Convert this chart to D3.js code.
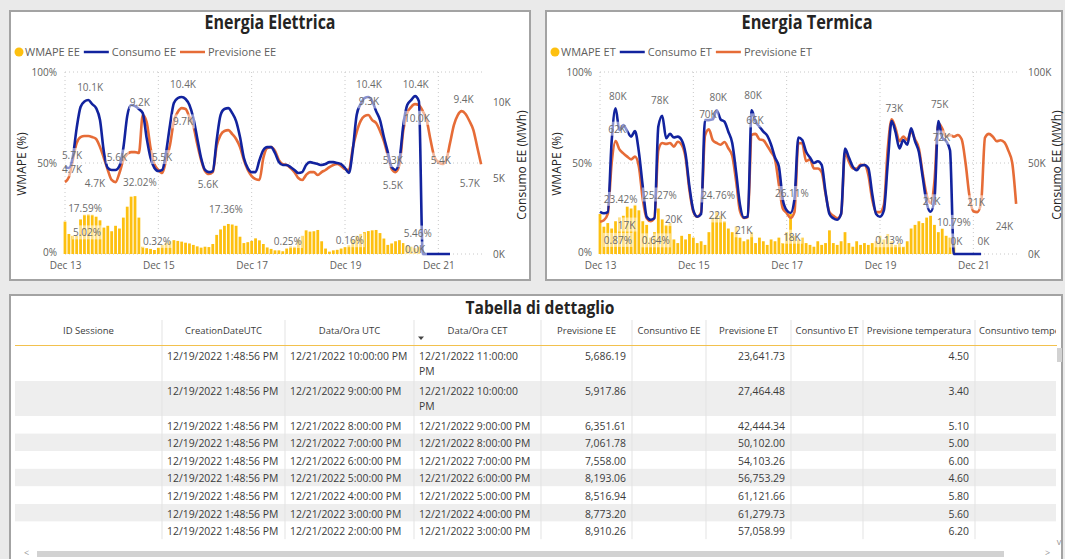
<!DOCTYPE html>
<html>
<head>
<meta charset="utf-8">
<script src="https://cdn.jsdelivr.net/npm/d3@7"></script>
<style>
body { margin: 0; background: #eaeaea; overflow: hidden; }
svg { display: block; font-family: "Open Sans", sans-serif; }
</style>
</head>
<body>
<svg id="dash" width="1065" height="559"></svg>
<script>
// time grid: one value every 2 hours from Dec 13 00:00
var startDate = new Date(2022, 11, 13, 0, 0);
var stepHours = 2;

// Energia Elettrica (MWh, thousands)
var eeConsumo = [5.73,5.67,6.39,8.30,9.69,10.05,10.15,9.88,9.62,8.83,
  6.72,5.67,5.54,5.54,5.80,6.99,9.09,9.82,9.75,9.56,
  9.29,7.64,6.33,5.67,5.47,5.54,6.72,8.50,9.95,10.28,
  10.35,10.22,9.82,8.96,7.64,6.33,5.54,5.40,5.47,7.51,
  9.16,9.56,9.62,9.29,8.76,7.71,6.33,5.67,5.40,5.40,
  6.19,6.85,7.05,7.05,6.66,6.06,5.87,5.87,5.73,5.54,
  5.34,5.40,5.87,6.06,6.00,5.93,5.87,5.93,6.06,6.06,
  6.00,5.93,5.67,5.34,6.85,9.16,9.88,10.28,10.35,10.08,
  9.42,8.83,7.71,6.72,5.73,5.54,6.19,8.50,9.82,10.15,
  10.41,10.08,0,0,0,0,0,0,0,0,
  null,null,null,null,null,null,null,null];
var eePrevisione = [4.74,5.07,6.19,7.31,7.71,7.78,7.78,7.71,7.58,7.05,
  6.33,5.54,4.88,4.74,5.34,6.19,6.59,6.72,6.72,6.66,
  9.16,8.70,6.99,5.93,5.54,5.34,6.19,7.18,8.76,9.36,
  9.62,9.56,9.03,8.44,7.25,6.19,5.47,5.27,5.40,7.12,
  7.84,8.11,8.17,7.91,7.58,7.05,6.19,5.54,5.14,4.94,
  4.88,6.33,6.99,7.05,6.79,6.19,5.93,5.87,5.67,5.40,
  5.01,4.88,5.21,5.40,5.40,5.21,5.40,5.54,5.73,5.87,
  5.93,5.80,5.60,5.54,6.99,8.04,8.76,9.09,9.16,8.83,
  8.63,8.11,7.45,6.52,5.60,5.40,5.87,8.17,9.29,9.69,
  9.88,9.82,9.42,8.83,7.51,6.39,6.06,5.93,6.19,7.31,
  8.50,9.16,9.42,9.23,8.77,8.19,7.06,5.92];
var eeWmape = [17.8,11,10,10,19,21.6,21.8,21.6,20.5,18.5,
  14.5,15.5,12.5,15.5,14,20,26,31.5,31.8,20,
  4,3.2,2.8,2.2,3.5,5,6.2,7,7.6,7.2,
  6.8,6.2,5.8,5,4.2,3.5,4,3.8,5.5,10.5,
  13.5,15.5,16.5,16.2,15.5,9.5,6,6.5,7.2,8.6,
  7.5,5.5,3.6,2.8,2,2,1.5,3,4.2,4,
  8,10,13,12.3,12.5,13.2,7,3,1.3,2,
  2.3,3,3.8,4.8,8,10,11,12,12.6,13,
  13.2,11.5,8.5,5,5.8,7,7.6,6,4.5,4,
  3.2,4,null,null,null,null,null,null,null,null,
  null,null,null,null,null,null,null,null];

// Energia Termica (MWh, thousands)
var etConsumo = [23.2,22.4,23,62,80,68,70.9,67.5,64.5,67.5,
  56,37,20.5,18.8,19.6,70,76,63.6,66,64,
  64.5,62.6,55,37,24,20.5,22,73.6,73.6,74,
  79,74,72.7,67.2,61,45,27,20,20.5,79,
  72.7,70,67.2,65,60,53,48,30,24,22.5,
  30,64,62.6,56.2,53,50,51,49,34,22,
  19.6,18.8,22,58,53,48,46,48.5,48.9,47.1,
  33,22,20.5,24,50,73,67,58,62.6,60,
  69,62,56,42,28,23.2,30,73,64,62,
  57,0,0,0,0,0,0,0,0,null,
  null,null,null,null,null,null,null,null];
var etPrevisione = [17.7,18.5,22,50,62,57.5,55.3,53.5,52,53.5,
  48,30,19.6,18,20,57,61,60.5,61,59,
  61.7,60,53,35,23.2,20.5,23,65,68.5,62.5,
  61,60,61.5,58.1,54,40,23.5,19.8,20.3,65.4,
  66,63,62.5,59.5,56,52,38,25,22.5,19.8,
  23,61,60.8,51,52,47,47,45,33,23,
  21,19.6,22,56,50.7,47,47,49,48.9,43.4,
  30,23,23,27,58,74,69,62,64.5,62.6,
  67.2,63,58,44,32.4,28,40,72,69,64.5,
  65.4,64.5,65.4,63,50,32,23.5,23,28,64,
  66,64.5,62,62.5,61.3,56.8,50.1,27.5];
var etWmape = [22,15,17,14,18,20,21,26,25,27,
  24,18,16,9,12,25,19,16,17,8,
  6,10,8,11,9,6,7,5,12,20,
  23,21,18,14,12,15,9,7,8,12,
  6,9,7,5,8,7,9,6,12,22,
  10,8,9,6,5,4,7,5,6,13,
  6,5,7,12,6,4,7,5,6,5,
  6,7,10,8,11,7,5,6,4,7,
  14,16,18,17,20,21,16,12,14,10,
  9,8,null,null,null,null,null,null,null,null,
  null,null,null,null,null,null,null,null];

// data labels: text, hour from Dec 13 00:00, offset
var eeLabels = [["10.1K",12.9,-13],["9.2K",38.5,-12],["10.4K",60.7,-12],["9.7K",60.7,15],
  ["5.7K",3.6,-12],["4.7K",3.6,-13],["5.6K",26.7,-12],["4.7K",15.4,1],
  ["5.5K",49.9,-13],["5.6K",73.5,15],["10.4K",156.3,-12],["9.3K",156.3,-11],
  ["10.4K",180.4,-12],["10.0K",181,16],["9.4K",205,-12],["5.3K",168.6,-13],
  ["5.5K",168.6,15],["5.4K",193.3,-12],["5.7K",208.2,16],["0.0K",180,-5],
  ["17.59%",10.3,-13],["5.02%",11.3,-12],["32.02%",38.5,-13],["0.32%",47.3,-12],
  ["17.36%",82.8,-13],["0.25%",114.6,-12],["0.16%",146.5,-13],["5.46%",181.4,-11]];
var etLabels = [["80K",9.2,-12],["62K",8.8,-12],["78K",30.8,-12],["80K",60.8,-11],["70K",55.5,-12],
  ["80K",78.7,-13],["66K",79.7,-13],["73K",151.4,-13],["75K",174.7,-13],["72K",175.6,15],
  ["23.42%",10.6,-12],["25.27%",30.8,-13],["24.76%",60.7,-13],["26.11%",98.7,-13],
  ["17K",13.7,2],["20K",37.9,2],["22K",60.4,2],["21K",73.9,15],["18K",98.7,16],
  ["0.87%",9.2,-12],["0.64%",28.7,-12],["0.13%",148.8,-13],["21K",170.5,-14],
  ["21K",193.4,-13],["10.79%",182,-12],["24K",208,16],["0K",183.3,-13],["0K",197.2,-13]];

// table
var tableCols = ["ID Sessione","CreationDateUTC","Data/Ora UTC","Data/Ora CET","Previsione EE",
  "Consuntivo EE","Previsione ET","Consuntivo ET","Previsione temperatura","Consuntivo temperatura"];
var creationDateUTC = "12/19/2022 1:48:56 PM";
var dataOraUTC = ["12/21/2022 10:00:00 PM","12/21/2022 9:00:00 PM","12/21/2022 8:00:00 PM",
  "12/21/2022 7:00:00 PM","12/21/2022 6:00:00 PM","12/21/2022 5:00:00 PM",
  "12/21/2022 4:00:00 PM","12/21/2022 3:00:00 PM","12/21/2022 2:00:00 PM"];
var dataOraCET = ["12/21/2022 11:00:00 PM","12/21/2022 10:00:00 PM","12/21/2022 9:00:00 PM",
  "12/21/2022 8:00:00 PM","12/21/2022 7:00:00 PM","12/21/2022 6:00:00 PM",
  "12/21/2022 5:00:00 PM","12/21/2022 4:00:00 PM","12/21/2022 3:00:00 PM"];
var previsioneEE = [5686.19,5917.86,6351.61,7061.78,7558.00,8193.06,8516.94,8773.20,8910.26];
var previsioneET = [23641.73,27464.48,42444.34,50102.00,54103.26,56753.29,61121.66,61279.73,57058.99];
var previsioneTemp = [4.50,3.40,5.10,5.00,6.00,4.60,5.80,5.60,6.20];

var blue = "#12239E", orange = "#E66C37", yellow = "#FDC010";
var labelColor = "#6b6b6b", darkText = "#252423";

var svg = d3.select("#dash");

function panel(x, y, w, h) {
    svg.append("rect")
        .attr("x", x).attr("y", y)
        .attr("width", w).attr("height", h)
        .attr("fill", "#fff")
        .attr("stroke", "#a3a3a3")
        .attr("stroke-width", 2);
}
panel(10, 11, 520, 269);
panel(546, 11, 516, 269);
panel(10, 295, 1052, 270);

function timeAt(i) { return d3.timeHour.offset(startDate, i * stepHours); }

function drawChart(c) {
    var g = svg.append("g");
    var x = d3.scaleTime()
        .domain([startDate, d3.timeDay.offset(startDate, 9)])
        .range([c.x0, c.x0 + 420]);
    var yL = d3.scaleLinear().domain([0, 100]).range([254, 72]);
    var yR = d3.scaleLinear().domain([0, c.rMax]).range([254, 72]);

    g.append("text")
        .attr("x", c.titleX).attr("y", 29)
        .attr("text-anchor", "middle")
        .attr("font-size", 19).attr("font-weight", "bold")
        .attr("fill", darkText)
        .attr("textLength", 131).attr("lengthAdjust", "spacingAndGlyphs")
        .text(c.title);

    // legend
    var ly = 52, lx = c.px + 9;
    var leg = g.append("g").attr("font-size", 11).attr("fill", "#605E5C");
    leg.append("circle").attr("cx", lx).attr("cy", ly).attr("r", 4.5).attr("fill", yellow);
    var cur = lx + 6;
    c.names.forEach(function(n, k) {
        if (k > 0) {
            leg.append("line")
                .attr("x1", cur).attr("x2", cur + 25)
                .attr("y1", ly).attr("y2", ly)
                .attr("stroke", k == 1 ? blue : orange).attr("stroke-width", 2.5);
            cur += 28;
        }
        var t = leg.append("text").attr("x", cur).attr("y", ly).attr("dy", "0.35em").text(n);
        cur += t.node().getComputedTextLength() + 4;
    });

    // grid
    var xt = x.ticks(d3.timeDay.every(2)).filter(function(d) { return d < x.domain()[1]; });
    g.selectAll(".vg").data(xt).enter().append("line")
        .attr("x1", function(d) { return x(d); }).attr("x2", function(d) { return x(d); })
        .attr("y1", 72).attr("y2", 254)
        .attr("stroke", "#c8c8c8").attr("stroke-dasharray", "1,3");
    g.selectAll(".hg").data([0, 50, 100]).enter().append("line")
        .attr("x1", c.x0).attr("x2", c.x0 + 419)
        .attr("y1", function(d) { return yL(d); }).attr("y2", function(d) { return yL(d); })
        .attr("stroke", "#c8c8c8").attr("stroke-dasharray", "1,3");

    // axes
    var ax = g.append("g").attr("transform", "translate(0,254)")
        .call(d3.axisBottom(x).tickValues(xt).tickFormat(d3.timeFormat("%b %d")).tickSize(0).tickPadding(8));
    var al = g.append("g").attr("transform", "translate(" + c.x0 + ",0)")
        .call(d3.axisLeft(yL).tickValues([0, 50, 100]).tickFormat(function(d) { return d + "%"; }).tickSize(0).tickPadding(8));
    var ar = g.append("g").attr("transform", "translate(" + (c.x0 + 420) + ",0)")
        .call(d3.axisRight(yR).tickValues(c.rTicks).tickFormat(function(d) { return d + "K"; }).tickSize(0).tickPadding(8));
    [ax, al, ar].forEach(function(a) {
        a.select(".domain").remove();
        a.selectAll("text").attr("font-family", "Open Sans").attr("font-size", 10).attr("fill", "#605E5C");
    });
    al.selectAll(".tick text").attr("dy", function(d) { return d == 0 ? "0.1em" : "0.32em"; });

    g.append("text")
        .attr("transform", "translate(" + (c.x0 - 43) + ",164) rotate(-90)")
        .attr("text-anchor", "middle").attr("dy", "0.35em")
        .attr("font-size", 12).attr("fill", darkText)
        .text("WMAPE (%)");
    g.append("text")
        .attr("transform", "translate(" + (c.x0 + 457) + ",165) rotate(-90)")
        .attr("text-anchor", "middle").attr("dy", "0.35em")
        .attr("font-size", 12).attr("fill", darkText)
        .text("Consumo EE (MWh)");

    // WMAPE columns
    var bw = (x(timeAt(1)) - x(timeAt(0))) * 0.72;
    var bars = c.wmape.map(function(v, i) { return {t: timeAt(i), v: v}; })
        .filter(function(d) { return d.v != null; });
    g.selectAll(".bar").data(bars).enter().append("rect")
        .attr("x", function(d) { return x(d.t) - bw / 2; })
        .attr("width", bw)
        .attr("y", function(d) { return yL(d.v); })
        .attr("height", function(d) { return yL(0) - yL(d.v); })
        .attr("fill", yellow);

    // lines
    var line = d3.line()
        .defined(function(d) { return d.v != null; })
        .x(function(d) { return x(d.t); })
        .y(function(d) { return yR(d.v); })
        .curve(d3.curveMonotoneX);
    [[c.prev, orange], [c.cons, blue]].forEach(function(s) {
        g.append("path")
            .datum(s[0].map(function(v, i) { return {t: timeAt(i), v: v}; }))
            .attr("d", line)
            .attr("fill", "none")
            .attr("stroke", s[1])
            .attr("stroke-width", 2.6)
            .attr("stroke-linejoin", "round");
    });

    // data labels
    c.labels.forEach(function(l) {
        var v = parseFloat(l[0]);
        var yy = (l[0].slice(-1) == "%" ? yL(v) : yR(v)) + l[2];
        var xx = x(new Date(+startDate + l[1] * 36e5));
        var lg = g.append("g");
        var t = lg.append("text")
            .attr("x", xx).attr("y", yy).attr("dy", "0.35em")
            .attr("text-anchor", "middle")
            .attr("font-size", 10).attr("fill", labelColor)
            .text(l[0]);
        var bb = t.node().getBBox();
        lg.insert("rect", "text")
            .attr("x", bb.x - 1).attr("y", bb.y)
            .attr("width", bb.width + 2).attr("height", bb.height)
            .attr("fill", "#fff").attr("fill-opacity", 0.5);
    });
}

drawChart({px: 10, x0: 65, titleX: 270, title: "Energia Elettrica",
    names: ["WMAPE EE", "Consumo EE", "Previsione EE"],
    cons: eeConsumo, prev: eePrevisione, wmape: eeWmape,
    rMax: 12, rTicks: [0, 5, 10], labels: eeLabels});
drawChart({px: 546, x0: 600, titleX: 807, title: "Energia Termica",
    names: ["WMAPE ET", "Consumo ET", "Previsione ET"],
    cons: etConsumo, prev: etPrevisione, wmape: etWmape,
    rMax: 100, rTicks: [0, 50, 100], labels: etLabels});

// ---- table ----
var tg = svg.append("g");
tg.append("text")
    .attr("x", 540).attr("y", 314)
    .attr("text-anchor", "middle")
    .attr("font-size", 18).attr("font-weight", "bold")
    .attr("fill", darkText)
    .attr("textLength", 149).attr("lengthAdjust", "spacingAndGlyphs")
    .text("Tabella di dettaglio");

var colEdges = [15, 162, 285, 414, 541, 632, 706, 791, 863, 975, 1057];
var numCol = [false, false, false, false, true, true, true, true, true, true];

svg.append("clipPath").attr("id", "tclip")
    .append("rect").attr("x", 15).attr("y", 315).attr("width", 1041).attr("height", 240);
var tbl = tg.append("g").attr("clip-path", "url(#tclip)");
var bandG = tbl.append("g"), gridG = tbl.append("g"), txtG = tbl.append("g");

tableCols.forEach(function(h, k) {
    var x0 = colEdges[k], x1 = colEdges[k + 1];
    var t = txtG.append("text")
        .attr("x", (x0 + x1) / 2).attr("y", 331).attr("dy", "0.35em")
        .attr("text-anchor", "middle")
        .attr("font-size", 9.5).attr("fill", "#3b3b3b")
        .text(h);
    if (t.node().getComputedTextLength() > x1 - x0 - 6) {
        t.attr("x", x0 + 4).attr("text-anchor", "start");
    }
});
tg.append("path").attr("d", "M418,336.5L424,336.5L421,340Z").attr("fill", "#444");

var fmt2 = d3.format(",.2f"), fmtT = d3.format(".2f");
var rows = dataOraUTC.map(function(d, i) {
    return ["", creationDateUTC, d, dataOraCET[i], fmt2(previsioneEE[i]), "",
        fmt2(previsioneET[i]), "", fmtT(previsioneTemp[i]), ""];
});

var ry = 346;
rows.forEach(function(r, i) {
    var band = bandG.append("rect").attr("x", 15).attr("width", 1042).attr("y", ry)
        .attr("fill", i % 2 ? "#eeeeee" : "#fff");
    var lines = 1;
    r.forEach(function(cell, k) {
        if (cell === "") return;
        var x0 = colEdges[k], x1 = colEdges[k + 1];
        var t = txtG.append("text")
            .attr("x", numCol[k] ? x1 - 6 : x0 + 5)
            .attr("y", ry + 10).attr("dy", "0.35em")
            .attr("text-anchor", numCol[k] ? "end" : "start")
            .attr("font-size", 10.4).attr("fill", "#3b3b3b")
            .text(cell);
        if (k == 3 && t.node().getComputedTextLength() > x1 - x0 - 12) {
            var words = cell.split(" ");
            t.text(words.slice(0, -1).join(" "));
            txtG.append("text")
                .attr("x", x0 + 5).attr("y", ry + 25).attr("dy", "0.35em")
                .attr("font-size", 10.4).attr("fill", "#3b3b3b")
                .text(words[words.length - 1]);
            lines = 2;
        }
    });
    var h = lines == 2 ? 35 : 17.6;
    band.attr("height", h);
    ry += h;
});

colEdges.slice(1, -1).forEach(function(cx) {
    gridG.append("line")
        .attr("x1", cx).attr("x2", cx).attr("y1", 320).attr("y2", ry)
        .attr("stroke", "#e3e3e3");
});
tg.append("line")
    .attr("x1", 15).attr("x2", 1057).attr("y1", 345.5).attr("y2", 345.5)
    .attr("stroke", "#F2C14E").attr("stroke-width", 1.2);

// scrollbars
tg.append("rect").attr("x", 37).attr("y", 551).attr("width", 967).attr("height", 6).attr("fill", "#d2d2d2");
tg.append("text").attr("x", 24).attr("y", 553).attr("dy", "0.35em").attr("font-size", 9).attr("fill", "#999").text("<");
tg.append("text").attr("x", 1045).attr("y", 553).attr("dy", "0.35em").attr("font-size", 9).attr("fill", "#999").text(">");
tg.append("rect").attr("x", 1057).attr("y", 348).attr("width", 5).attr("height", 14).attr("fill", "#d2d2d2");
tg.append("text").attr("x", 1059).attr("y", 542).attr("dy", "0.35em").attr("text-anchor", "middle").attr("font-size", 9).attr("fill", "#999").text("v");
</script>
</body>
</html>
